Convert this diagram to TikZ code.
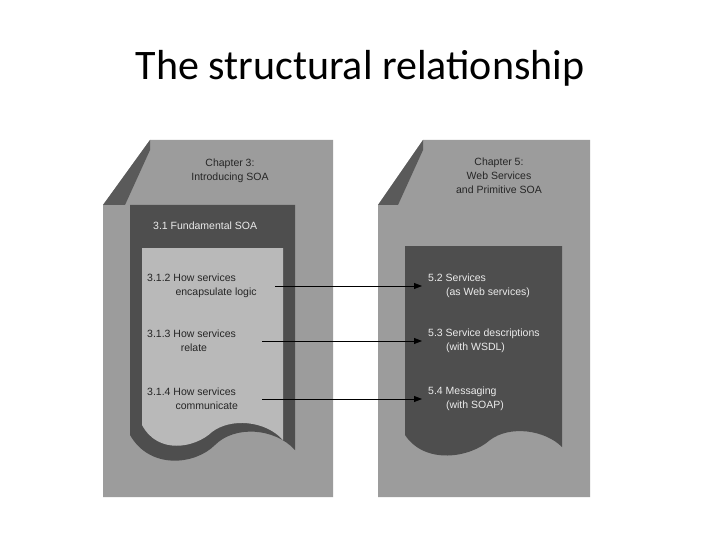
\documentclass[tikz,border=0pt]{standalone}
\usepackage{fontspec}
\setmainfont{Liberation Sans}
\newfontfamily\titlefont{Carlito}
\usetikzlibrary{arrows.meta}
\definecolor{pagegray}{HTML}{9C9C9C}
\definecolor{darkbox}{HTML}{4E4E4E}
\definecolor{lightbox}{HTML}{B9B9B9}
\definecolor{foldgray}{HTML}{5A5A5A}
\tikzset{
  lbl/.style={font=\fontsize{10.5}{14}\selectfont, align=left, anchor=west, text=black!85, inner sep=0pt},
  wlbl/.style={font=\fontsize{10.5}{14}\selectfont, align=left, anchor=west, text=white!92!black, inner sep=0pt},
  conn/.style={-{Triangle[length=8pt,width=6pt]}, line width=0.8pt, black}
}
\begin{document}
\begin{tikzpicture}[x=1pt,y=-1pt]
\useasboundingbox (0,0) rectangle (720,540);
\fill[white] (0,0) rectangle (720,540);
\node[font=\titlefont\fontsize{42}{48}\selectfont] (title) at (360,68) {The structural relationship};
% left page
\fill[pagegray] (103,205) -- (150,140) -- (333,140) -- (333,497) -- (103,497) -- cycle;
\fill[foldgray] (103,205) -- (150,140) -- (150,150) -- (125,205) -- cycle;
\fill[darkbox] (130,205) -- (295,205) -- (295,450)
  .. controls (275,428) and (235,425) .. (215,445)
  .. controls (195,465) and (150,470) .. (130,435) -- cycle;
\fill[lightbox] (142,248) -- (283,248) -- (283,440)
  .. controls (265,420) and (230,418) .. (212,432)
  .. controls (195,448) and (158,455) .. (142,425) -- cycle;
\node[font=\fontsize{10.5}{14}\selectfont, align=center, text=black!85] (ch3) at (230,171) {Chapter 3:\\Introducing SOA};
\node[wlbl] (s31) at (153,226) {3.1 Fundamental SOA};
\node[lbl] (s312) at (147,286) {3.1.2 How services\\\hspace*{2.7em}encapsulate logic};
\node[lbl] (s313) at (147,341) {3.1.3 How services\\\hspace*{3.2em}relate};
\node[lbl] (s314) at (147,399) {3.1.4 How services\\\hspace*{2.7em}communicate};
% right page
\fill[pagegray] (378,205) -- (423,140) -- (590,140) -- (590,497) -- (378,497) -- cycle;
\fill[foldgray] (378,205) -- (423,140) -- (423,150) -- (398,205) -- cycle;
\fill[darkbox] (405,246) -- (562,246) -- (562,447)
  .. controls (545,430) and (510,425) .. (490,440)
  .. controls (470,458) and (425,465) .. (405,435) -- cycle;
\node[font=\fontsize{10.5}{14}\selectfont, align=center, text=black!85] (ch5) at (499,176) {Chapter 5:\\Web Services\\and Primitive SOA};
\node[wlbl] (s52) at (428,286) {5.2 Services\\\hspace*{1.7em}(as Web services)};
\node[wlbl] (s53) at (428,341) {5.3 Service descriptions\\\hspace*{1.7em}(with WSDL)};
\node[wlbl] (s54) at (428,399) {5.4 Messaging\\\hspace*{1.7em}(with SOAP)};
% arrows
\coordinate (a1) at (275,286);
\coordinate (a2) at (262,341);
\coordinate (a3) at (262,399);
\draw[conn] (a1) -- ([xshift=-6pt]s52.west |- a1);
\draw[conn] (a2) -- ([xshift=-6pt]s53.west |- a2);
\draw[conn] (a3) -- ([xshift=-6pt]s54.west |- a3);
\end{tikzpicture}
\end{document}
